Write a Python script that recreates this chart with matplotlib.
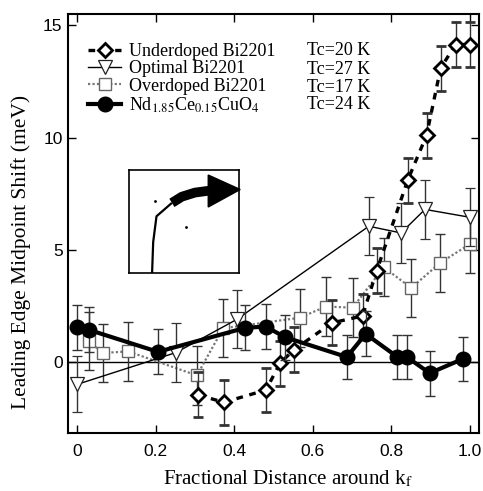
import numpy as np
import matplotlib
matplotlib.use('Agg')
import matplotlib.pyplot as plt
from matplotlib.patches import Polygon
from matplotlib.lines import Line2D

plt.rcParams['mathtext.fontset'] = 'stix'

# Underdoped Bi2201 (Tc=20 K)
ud_x = [0.308, 0.374, 0.481, 0.517, 0.552, 0.649, 0.727, 0.763, 0.842, 0.89, 0.926, 0.964, 1.0]
ud_y = [-1.47, -1.8, -1.25, -0.05, 0.54, 1.74, 2.05, 4.06, 8.1, 10.1, 13.1, 14.15, 14.15]
ud_err = [1.0] * len(ud_x)

# Optimal Bi2201 (Tc=27 K)
op_x = [0.0, 0.252, 0.407, 0.743, 0.825, 0.886, 1.0]
op_y = [-1.0, 0.42, 1.9, 6.05, 5.75, 6.8, 6.45]
op_err = [1.25, 1.3, 1.3, 1.3, 1.35, 1.3, 1.3]

# Overdoped Bi2201 (Tc=17 K)
od_x = [0.03, 0.066, 0.13, 0.305, 0.372, 0.567, 0.634, 0.702, 0.781, 0.851, 0.925, 1.0]
od_y = [0.92, 0.4, 0.47, -0.6, 1.5, 1.97, 2.47, 2.42, 4.22, 3.3, 4.42, 5.25]
od_err = [1.3] * len(od_x)

# Nd1.85Ce0.15CuO4 (Tc=24 K)
nd_x = [0.0, 0.03, 0.206, 0.428, 0.48, 0.53, 0.687, 0.735, 0.816, 0.84, 0.898, 0.982]
nd_y = [1.55, 1.43, 0.45, 1.52, 1.58, 1.1, 0.22, 1.25, 0.22, 0.22, -0.5, 0.13]
nd_err = [1.0] * len(nd_x)

labels = ['Underdoped Bi2201', 'Optimal Bi2201', 'Overdoped Bi2201',
          r'Nd$_{1.85}$Ce$_{0.15}$CuO$_4$']
tc_labels = ['Tc=20 K', 'Tc=27 K', 'Tc=17 K', 'Tc=24 K']

# inset sketch (inset-axes coordinates)
fs_x = [0.21, 0.22, 0.25, 0.39]
fs_y = [0.0, 0.3, 0.55, 0.68]
band_x = [0.39, 0.48, 0.6, 0.74]
band_y = [0.68, 0.74, 0.78, 0.80]
dots_x = [0.24, 0.52]
dots_y = [0.70, 0.45]

fig = plt.figure(figsize=(4.83, 4.91), dpi=100)
ax = fig.add_axes([0.141, 0.118, 0.851, 0.853])

serif = ['Liberation Serif', 'DejaVu Serif']
sans = ['Liberation Sans', 'DejaVu Sans']
ecol = '#333333'

ax.axhline(0, color='black', lw=1.0, zorder=1)

# marker / line style of each series
st_od = dict(marker='s', ls=(0, (1, 1)), lw=1.6, color='#777777', mfc='white', mec='#666666', ms=9, mew=1.0)
st_op = dict(marker='v', ls='-', lw=1.0, color='black', mfc='white', mec='#222222', ms=10, mew=0.9)
st_ud = dict(marker='D', ls=(0, (2, 2)), lw=2.4, color='black', mfc='white', mec='black', ms=7.5, mew=2.0)
st_nd = dict(marker='o', ls='-', lw=3.0, color='black', mfc='black', mec='black', ms=10.5, mew=1.0)

eb = dict(ecolor=ecol, elinewidth=1.0, capsize=3.5, capthick=1.0)
ax.errorbar(od_x, od_y, yerr=od_err, zorder=2, **st_od, **eb)
ax.errorbar(op_x, op_y, yerr=op_err, zorder=3, **st_op, **eb)
ax.errorbar(ud_x, ud_y, yerr=ud_err, zorder=4, **st_ud, **eb)
ax.errorbar(nd_x, nd_y, yerr=nd_err, zorder=5, **st_nd, **eb)

ax.set_xlim(-0.023, 1.024)
ax.set_ylim(-3.17, 15.5)
ax.set_xticks([0, 0.2, 0.4, 0.6, 0.8, 1.0])
ax.set_xticklabels(['0', '0.2', '0.4', '0.6', '0.8', '1.0'])
ax.set_yticks([0, 5, 10, 15])
ax.tick_params(direction='in', top=True, right=True, length=6, width=1.0, labelsize=12.5)
ax.tick_params(axis='x', pad=8)
ax.tick_params(axis='y', pad=4)
for lab in ax.get_xticklabels() + ax.get_yticklabels():
    lab.set_family(sans)
for sp in ax.spines.values():
    sp.set_linewidth(1.5)

ax.set_xlabel(r'Fractional Distance around k$_\mathrm{f}$', family=serif, fontsize=15)
ax.set_ylabel('Leading Edge Midpoint Shift (meV)', family=serif, fontsize=15.5)
ax.xaxis.set_label_coords(0.535, -0.086)
ax.yaxis.set_label_coords(-0.09, 0.432)

handles = [Line2D([], [], **st) for st in (st_ud, st_op, st_od, st_nd)]
ax.legend(handles, labels, loc='upper left', bbox_to_anchor=(0.01, 0.97), frameon=False,
          handlelength=1.8, handletextpad=0.45, labelspacing=0.02,
          prop={'family': serif, 'size': 13})

tc_y = [0.914, 0.869, 0.826, 0.785]
for yy, t in zip(tc_y, tc_labels):
    ax.text(0.581, yy, t, transform=ax.transAxes, family=serif, fontsize=13,
            va='center', ha='left')

# inset
axi = fig.add_axes([0.267, 0.444, 0.228, 0.210])
axi.set_xlim(0, 1)
axi.set_ylim(0, 1)
axi.set_xticks([])
axi.set_yticks([])
for sp in axi.spines.values():
    sp.set_linewidth(1.2)
axi.plot(fs_x, fs_y, color='black', lw=1.6, solid_capstyle='butt')
axi.plot(band_x, band_y, color='black', lw=7, solid_capstyle='butt')
axi.add_patch(Polygon([[0.72, 0.95], [0.72, 0.64], [1.01, 0.81]], closed=True,
                      color='black', clip_on=False))
axi.plot(dots_x, dots_y, 'k.', ms=2)

fig.savefig('out.png', dpi=100)
